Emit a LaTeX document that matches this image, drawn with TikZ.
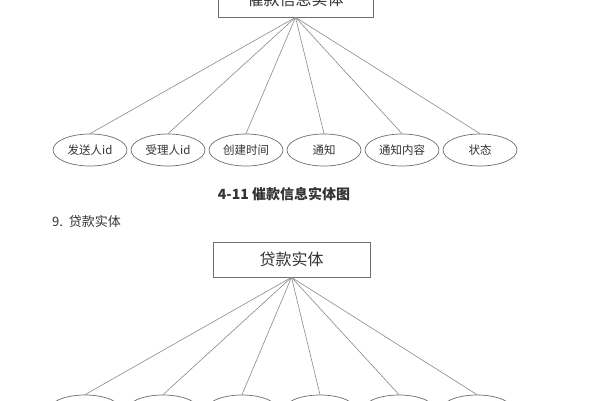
\documentclass[tikz,border=0pt]{standalone}
\usepackage{fontspec}
\setmainfont{Noto Sans CJK SC}
\newfontfamily\cjk{Noto Sans CJK SC}
\usetikzlibrary{shapes.geometric}
\definecolor{linegray}{HTML}{8A8A8A}
\definecolor{boxgray}{HTML}{6E6E6E}
\definecolor{txtgray}{HTML}{333333}
\tikzset{
  entity/.style={draw=boxgray, line width=0.7pt, rectangle, fill=white, text=txtgray, font=\cjk\fontsize{16}{18}\selectfont, inner sep=0pt},
  attr/.style={draw=boxgray, line width=0.7pt, ellipse, minimum width=74pt, minimum height=32pt, inner sep=0pt, text=txtgray, font=\cjk\fontsize{11.5}{13}\selectfont},
  conn/.style={draw=linegray, line width=0.6pt},
  caption/.style={text=txtgray, font=\cjk\bfseries\fontsize{14}{16}\selectfont, inner sep=0pt},
  heading/.style={text=txtgray, font=\cjk\fontsize{13}{15}\selectfont, inner sep=0pt, anchor=west}
}
\begin{document}
\begin{tikzpicture}[x=1pt,y=-1pt]
\useasboundingbox (0,0) rectangle (600,400);
\clip (0,0) rectangle (600,400);
\fill[white] (0,0) rectangle (600,400);
% first diagram
\node[entity, minimum width=155pt, minimum height=36pt] (e1) at (295.5,-1) {催款信息实体};
\node[attr] (a1) at (90,150) {发送人id};
\node[attr] (a2) at (168,150) {受理人id};
\node[attr] (a3) at (246,150) {创建时间};
\node[attr] (a4) at (324,150) {通知};
\node[attr] (a5) at (402,150) {通知内容};
\node[attr] (a6) at (480,150) {状态};
\foreach \n in {a1,a2,a3,a4,a5,a6} \draw[conn] (e1.south) -- (\n.north);
\node[caption] (cap) at (284,194) {4-11 催款信息实体图};
\node[heading] (sec) at (52,222) {9.\ \ 贷款实体};
% second diagram
\node[entity, minimum width=157pt, minimum height=35pt] (e2) at (291.5,259.5) {贷款实体};
\node[attr] (b1) at (85,411) {};
\node[attr] (b2) at (163,411) {};
\node[attr] (b3) at (242,411) {};
\node[attr] (b4) at (320,411) {};
\node[attr] (b5) at (399,411) {};
\node[attr] (b6) at (477,411) {};
\foreach \n in {b1,b2,b3,b4,b5,b6} \draw[conn] (e2.south) -- (\n.north);
\end{tikzpicture}
\end{document}
